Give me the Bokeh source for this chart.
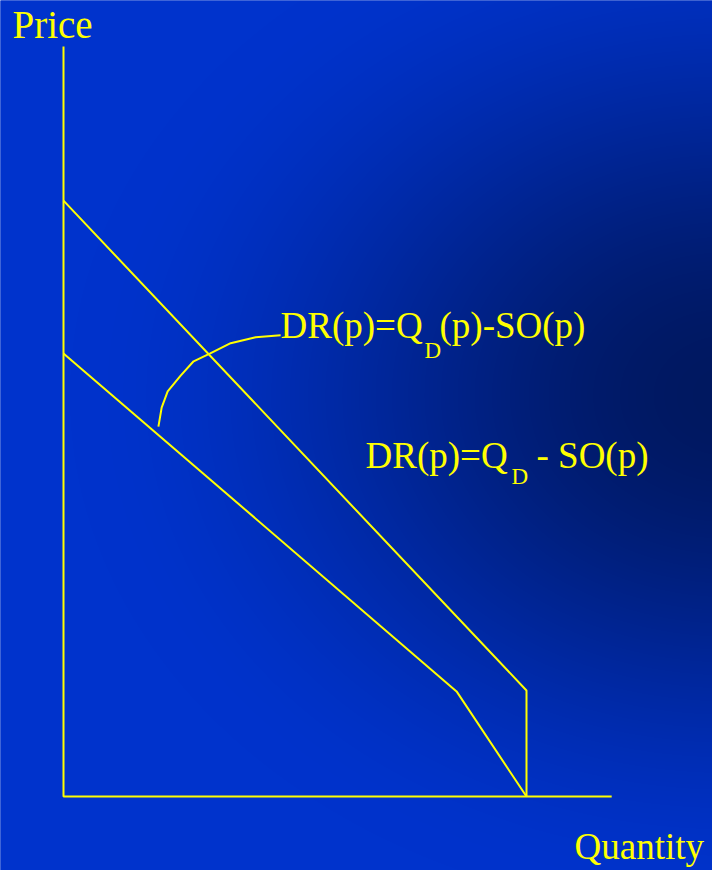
import numpy as np
from bokeh.plotting import figure
from bokeh.models import Range1d
from bokeh.core.properties import value
from bokeh.embed import file_html
from bokeh.resources import INLINE

# Demand curve Q_D(p): linear, with a vertical segment at the choke quantity
demand_q = [0.0, 10.0, 10.0]
demand_p = [12.87, 2.29, 0.0]

# Residual demand DR(p) = Q_D(p) - SO(p): kinked line
resid_q = [0.0, 8.49, 10.0]
resid_p = [9.57, 2.27, 0.0]

# Axes extents
axis_q = [0.0, 0.0, 11.84]
axis_p = [16.2, 0.0, 0.0]

# Callout arc linking the residual-demand line to its label
arc_q = [2.05, 2.12, 2.25, 2.53, 2.81, 3.17, 3.61, 4.15, 4.69]
arc_p = [7.99, 8.40, 8.75, 9.09, 9.40, 9.57, 9.79, 9.92, 9.96]

YELLOW = "#FFFF00"
SERIF = value("Liberation Serif")

W, H = 712, 870
PX = 46.3  # screen pixels per data unit
x0, y0 = -63 / PX, -(H - 796) / PX
x1, y1 = x0 + W / PX, y0 + H / PX

p = figure(width=W, height=H, output_backend="svg", toolbar_location=None,
           x_range=Range1d(x0, x1), y_range=Range1d(y0, y1),
           min_border=0, x_axis_type=None, y_axis_type=None)
p.grid.visible = False
p.outline_line_color = None
p.background_fill_color = "#0033CC"
p.border_fill_color = "#0033CC"

# Radial background shading: bright blue at the edges, navy towards the right middle
pad = 4
gx, gy = np.meshgrid(np.arange(-pad, W + pad) + 0.5, np.arange(-pad, H + pad) + 0.5)
t = np.sqrt(((gx - 730) / 660.0) ** 2 + ((gy - 395) / 520.0) ** 2)
t = np.clip(t, 0, 1)
t = t * t * (3 - 2 * t)  # smooth ease at both ends
dark = np.array([0, 24, 96])
bright = np.array([0, 51, 204])
rgb = dark[None, None, :] + (bright - dark)[None, None, :] * t[..., None]
gh, gw = t.shape
img = np.empty((gh, gw), dtype=np.uint32)
view = img.view(dtype=np.uint8).reshape((gh, gw, 4))
view[..., 0] = rgb[..., 0]
view[..., 1] = rgb[..., 1]
view[..., 2] = rgb[..., 2]
view[..., 3] = 255
img = img[::-1]  # row 0 sits at the bottom of the plot
p.image_rgba(image=[img], x=x0 - pad / PX, y=y0 - pad / PX,
             dw=(x1 - x0) + 2 * pad / PX, dh=(y1 - y0) + 2 * pad / PX)

# Axes
p.line(axis_q, axis_p, line_color=YELLOW, line_width=2)
# Demand and residual demand
p.line(demand_q, demand_p, line_color=YELLOW, line_width=2)
p.line(resid_q, resid_p, line_color=YELLOW, line_width=2)
p.line(arc_q, arc_p, line_color=YELLOW, line_width=2)


def label(x, y, txt, size):
    p.text(x=[x], y=[y], text=[txt], text_font=SERIF, text_font_size=f"{size}px",
           text_color=YELLOW, text_baseline="alphabetic", text_align="left",
           y_offset=-12)


def px_x(px):
    return x0 + px / PX


def px_y(py):
    return y1 - py / PX


label(px_x(12), px_y(36), "Price", 39)
label(px_x(574), px_y(858), "Quantity", 37)

# DR(p)=Q_D(p)-SO(p)
label(px_x(280), px_y(337), "DR(p)=Q", 37)
label(px_x(424), px_y(362), "D", 23)
label(px_x(439), px_y(337), "(p)-SO(p)", 37)

# DR(p)=Q_D - SO(p)
label(px_x(365), px_y(467), "DR(p)=Q", 37)
label(px_x(511), px_y(488), "D", 23)
label(px_x(536), px_y(467), "- SO(p)", 37)

open("out.html", "w").write(file_html(p, INLINE))
